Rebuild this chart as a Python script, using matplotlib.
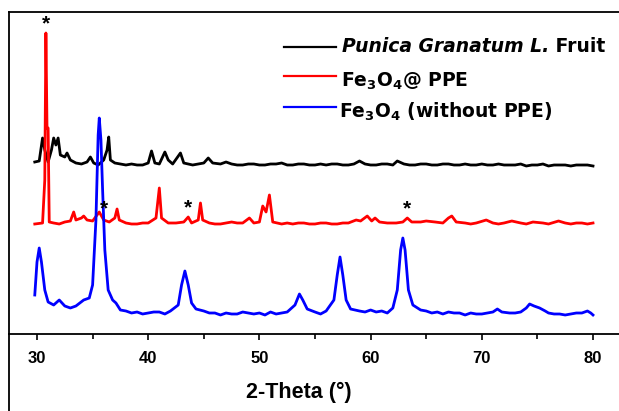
import matplotlib
matplotlib.use("Agg")
import matplotlib.pyplot as plt
from matplotlib.lines import Line2D

plt.rcParams['font.family'] = ['Liberation Sans', 'DejaVu Sans']
plt.rcParams['mathtext.fontset'] = 'dejavusans'

# XRD patterns (2-theta in degrees, intensity in arbitrary units above each trace's own zero)
blue_tt = [29.8, 30.0, 30.2, 30.4, 30.7, 31.0, 31.5, 32.0, 32.5, 33.0, 33.5, 34.2, 34.7,
           35.0, 35.3, 35.5, 35.6, 35.75, 35.9, 36.1, 36.4, 36.8, 37.1, 37.5, 38.0, 38.5,
           39.0, 39.5, 40.0, 40.5, 41.0, 41.5, 42.0, 42.7, 43.0, 43.3, 43.6, 43.9, 44.3,
           45.0, 45.5, 46.0, 46.5, 47.0, 47.5, 48.0, 48.5, 49.0, 49.5, 50.0, 50.5, 51.0,
           51.5, 52.0, 52.5, 53.2, 53.6, 53.9, 54.3, 55.0, 55.5, 56.0, 56.7, 57.0, 57.25,
           57.5, 57.8, 58.2, 59.0, 59.5, 60.0, 60.5, 61.0, 61.5, 62.0, 62.4, 62.7, 62.9,
           63.1, 63.4, 63.8, 64.5, 65.0, 65.5, 66.0, 66.5, 67.0, 67.5, 68.0, 68.5, 69.0,
           69.5, 70.0, 70.5, 71.0, 71.4, 71.8, 72.5, 73.0, 73.5, 74.0, 74.3, 74.7, 75.2,
           75.7, 76.0, 76.5, 77.0, 77.5, 78.0, 78.5, 79.0, 79.5, 79.8, 80.0]
blue_int = [39, 72, 86, 72, 44, 32, 29, 34, 28, 26, 28, 34, 36,
            49, 114, 199, 216, 194, 144, 84, 44, 34, 31, 24, 23, 21,
            22, 20, 21, 22, 22, 20, 23, 29, 49, 63, 49, 31, 25,
            23, 21, 21, 19, 21, 20, 20, 22, 21, 20, 21, 19, 22,
            20, 21, 22, 29, 40, 34, 25, 22, 20, 23, 34, 59, 77,
            59, 34, 25, 23, 22, 24, 22, 23, 21, 26, 44, 84, 96,
            84, 44, 29, 24, 23, 21, 22, 20, 22, 21, 21, 19, 21,
            20, 20, 21, 22, 25, 22, 21, 21, 22, 26, 30, 28, 26,
            23, 21, 20, 20, 19, 20, 21, 21, 23, 21, 19]

red_tt = [29.8, 30.5, 30.7, 30.8, 30.9, 31.0, 31.1, 31.5, 32.0, 32.5, 33.0, 33.3, 33.5,
          34.0, 34.2, 34.5, 35.0, 35.6, 36.0, 36.5, 37.0, 37.2, 37.4, 38.0, 38.5, 39.0,
          39.5, 40.0, 40.7, 41.0, 41.2, 41.8, 42.5, 43.2, 43.6, 43.9, 44.5, 44.7, 44.9,
          45.5, 46.0, 46.5, 47.0, 47.5, 48.0, 48.5, 49.1, 49.5, 50.0, 50.3, 50.6, 50.9,
          51.2, 52.0, 52.5, 53.0, 53.5, 54.0, 54.5, 55.0, 55.5, 56.0, 56.5, 57.0, 57.5,
          58.0, 58.7, 59.1, 59.7, 60.1, 60.4, 60.8, 61.5, 62.3, 62.9, 63.3, 63.7, 64.5,
          65.0, 65.8, 66.5, 67.0, 67.3, 67.7, 68.5, 69.0, 69.5, 70.4, 71.0, 71.5, 72.0,
          72.7, 73.5, 74.0, 74.6, 75.5, 76.0, 76.9, 77.5, 78.0, 78.5, 79.0, 79.5, 80.0]
red_int = [10, 11, 54, 201, 106, 106, 12, 11, 10, 12, 13, 22, 14,
           16, 18, 14, 13, 22, 14, 12, 16, 25, 14, 11, 10, 10,
           11, 11, 16, 46, 16, 11, 11, 12, 17, 11, 14, 31, 14,
           11, 10, 10, 11, 12, 11, 11, 16, 11, 12, 28, 22, 39,
           12, 10, 11, 10, 11, 11, 10, 10, 11, 11, 10, 10, 11,
           11, 14, 13, 18, 13, 16, 12, 11, 11, 12, 16, 12, 12,
           13, 12, 11, 16, 18, 12, 11, 10, 11, 14, 11, 10, 11,
           13, 11, 10, 12, 11, 10, 13, 11, 10, 11, 11, 10, 11]

black_tt = [29.8, 30.2, 30.5, 30.7, 31.0, 31.3, 31.5, 31.7, 31.9, 32.1, 32.5, 32.7, 33.0,
            33.5, 34.0, 34.5, 34.8, 35.1, 35.5, 36.0, 36.3, 36.45, 36.6, 37.0, 37.5, 38.0,
            38.5, 39.0, 39.5, 40.0, 40.3, 40.6, 41.0, 41.5, 41.8, 42.2, 42.9, 43.2, 44.0,
            44.5, 45.0, 45.4, 45.8, 46.5, 47.0, 47.5, 48.0, 48.5, 49.0, 49.5, 50.0, 50.5,
            51.0, 51.5, 52.0, 52.5, 53.0, 53.5, 54.0, 54.5, 55.0, 55.5, 56.0, 56.5, 57.0,
            57.5, 58.0, 58.5, 59.0, 59.5, 60.0, 60.5, 61.0, 61.5, 62.0, 62.4, 63.0, 63.5,
            64.0, 64.5, 65.0, 65.5, 66.0, 66.5, 67.0, 67.5, 68.0, 68.5, 69.0, 69.5, 70.0,
            70.5, 71.0, 71.5, 72.0, 72.5, 73.0, 73.5, 74.0, 74.5, 75.0, 75.5, 76.0, 76.5,
            77.0, 77.5, 78.0, 78.5, 79.0, 79.5, 80.0]
black_int = [12, 13, 36, 24, 12, 24, 36, 29, 36, 19, 17, 21, 14,
             11, 10, 12, 17, 11, 9, 14, 24, 37, 14, 11, 10, 9,
             10, 9, 9, 11, 23, 11, 10, 22, 14, 10, 21, 11, 9,
             10, 11, 16, 11, 10, 12, 10, 9, 9, 10, 10, 9, 9,
             10, 10, 11, 9, 9, 10, 10, 9, 9, 10, 9, 10, 10,
             9, 9, 10, 13, 10, 9, 9, 10, 10, 9, 13, 10, 9,
             9, 10, 10, 9, 9, 10, 10, 9, 9, 10, 9, 9, 10,
             9, 9, 10, 9, 9, 9, 10, 8, 9, 9, 10, 8, 9,
             9, 9, 8, 9, 9, 9, 8]

# peaks marked with an asterisk on the Fe3O4@PPE pattern
star_tt = [30.8, 36.0, 43.6, 63.3]
star_int = [201, 16, 17, 16]

labels = ["Punica Granatum L.", " Fruit",
          r"Fe$_{\mathbf{3}}$O$_{\mathbf{4}}$@ PPE",
          r"Fe$_{\mathbf{3}}$O$_{\mathbf{4}}$ (without PPE)"]
xticks = [30, 40, 50, 60, 70, 80]
xticks_minor = [35, 45, 55, 65, 75]

# vertical stacking offsets
off_blue, off_red, off_black = 0, 100, 160

W, H = 619, 411
fig = plt.figure(figsize=(W / 100, H / 100), dpi=100)
ax = fig.add_axes([9 / W, 77 / H, 1.02 - 9 / W, 322 / H])

ax.plot(black_tt, [v + off_black for v in black_int], color="black", lw=2.0)
ax.plot(red_tt, [v + off_red for v in red_int], color="#ff0000", lw=2.0)
ax.plot(blue_tt, [v + off_blue for v in blue_int], color="#0000ff", lw=2.0)

for t, v in zip(star_tt, star_int):
    ax.text(t, v + off_red + 9, "*", ha="center", va="center", fontsize=15,
            fontweight="bold")

ax.set_xlim(30 - 28 / 11.12, 80 + (1.02 * W - 593) / 11.12)
ax.set_ylim(0, 322)
ax.set_xticks(xticks)
ax.set_xticklabels([str(t) for t in xticks])
ax.set_xticks(xticks_minor, minor=True)
ax.set_yticks([])
ax.tick_params(axis="x", which="major", direction="out", length=4.5, width=1.2,
               labelsize=12, pad=8)
ax.tick_params(axis="x", which="minor", direction="out", length=3.3, width=1.2)
for lab in ax.get_xticklabels():
    lab.set_fontweight("bold")
for s in ax.spines.values():
    s.set_linewidth(1.3)
ax.spines["right"].set_visible(False)

# left frame line continues below the axis
fig.add_artist(Line2D([9 / W, 9 / W], [0, 77 / H], color="black", lw=1.3,
                      transform=fig.transFigure))

fig.text(299 / W, 1 - 392 / H, "2-Theta (°)", ha="center", va="center",
         fontsize=15.5, fontweight="bold")

# legend
colors = ["black", "#ff0000", "#0000ff"]
line_y = [47.5, 76, 107]
base_y = [52, 86.5, 118]
text_x = [342, 341, 339]
for c, y in zip(colors, line_y):
    fig.add_artist(Line2D([284 / W, 336 / W], [1 - y / H] * 2, color=c, lw=1.6,
                          transform=fig.transFigure))
t1 = fig.text(text_x[0] / W, 1 - base_y[0] / H, labels[0], ha="left", va="baseline",
              fontsize=13.5, fontweight="bold", fontstyle="italic", family="DejaVu Sans")
fig.canvas.draw()
bb = t1.get_window_extent()
fig.text(bb.x1 / W, 1 - base_y[0] / H, labels[1], ha="left", va="baseline",
         fontsize=13.5, fontweight="bold", family="DejaVu Sans")
fig.text(text_x[1] / W, 1 - base_y[1] / H, labels[2], ha="left", va="baseline",
         fontsize=13.5, fontweight="bold", family="DejaVu Sans")
fig.text(text_x[2] / W, 1 - base_y[2] / H, labels[3], ha="left", va="baseline",
         fontsize=13.5, fontweight="bold", family="DejaVu Sans")

fig.savefig("out.png", dpi=100)
